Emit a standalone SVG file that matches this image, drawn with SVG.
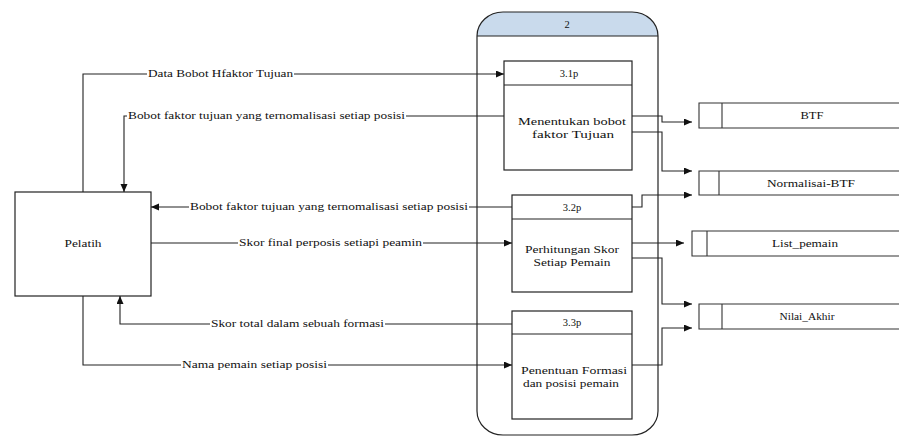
<svg xmlns="http://www.w3.org/2000/svg" width="899" height="436" viewBox="0 0 899 436" font-family="'Liberation Serif', 'Times New Roman', 'DejaVu Serif', serif">
  <style>
    text { font-family: 'Liberation Serif', 'Times New Roman', 'DejaVu Serif', serif; font-size: 10.5px; fill: #111; }
    .mid { text-anchor: middle; }
    .box { fill: #fff; stroke: #222; stroke-width: 1.2; }
    .ln { fill: none; stroke: #222; stroke-width: 1.1; }
    .flow { fill: none; stroke: #222; stroke-width: 1.1; }
    .store { fill: none; stroke: #333; stroke-width: 1.1; }
  </style>
  <defs>
    <marker id="arrow" markerUnits="userSpaceOnUse" markerWidth="9" markerHeight="8" refX="8" refY="3.5" orient="auto">
      <path d="M0,0 L8,3.5 L0,7 Z" fill="#111"/>
    </marker>
  </defs>

  <rect width="899" height="436" fill="#fff"/>

  <!-- process group 2 -->
  <g id="process-2">
    <path d="M477,36 A27,24 0 0 1 504,12 H631 A27,24 0 0 1 658,36 Z" fill="#c9daec"/>
    <rect x="477" y="12" width="181" height="423" rx="26" ry="24" fill="none" stroke="#222" stroke-width="1.2"/>
    <line x1="477" y1="36" x2="658" y2="36" class="ln"/>
    <text x="567" y="28" class="mid">2</text>
  </g>

  <!-- sub-process 3.1p -->
  <g id="p31">
    <rect x="504" y="61" width="128" height="109" class="box"/>
    <line x1="504" y1="85" x2="632" y2="85" class="ln"/>
    <text x="569" y="77" class="mid">3.1p</text>
    <text x="572" y="125" class="mid" textLength="108" lengthAdjust="spacingAndGlyphs">Menentukan bobot</text>
    <text x="573" y="138" class="mid" textLength="82" lengthAdjust="spacingAndGlyphs">faktor Tujuan</text>
  </g>

  <!-- sub-process 3.2p -->
  <g id="p32">
    <rect x="512" y="195" width="120" height="97" class="box"/>
    <line x1="512" y1="219" x2="632" y2="219" class="ln"/>
    <text x="572" y="211" class="mid">3.2p</text>
    <text x="572" y="253" class="mid" textLength="94" lengthAdjust="spacingAndGlyphs">Perhitungan Skor</text>
    <text x="572" y="266" class="mid" textLength="77" lengthAdjust="spacingAndGlyphs">Setiap Pemain</text>
  </g>

  <!-- sub-process 3.3p -->
  <g id="p33">
    <rect x="512" y="311" width="120" height="108" class="box"/>
    <line x1="512" y1="334" x2="632" y2="334" class="ln"/>
    <text x="572" y="326" class="mid">3.3p</text>
    <text x="574" y="374" class="mid" textLength="106" lengthAdjust="spacingAndGlyphs">Penentuan Formasi</text>
    <text x="571" y="387" class="mid" textLength="96" lengthAdjust="spacingAndGlyphs">dan posisi pemain</text>
  </g>

  <!-- external entity -->
  <g id="pelatih">
    <rect x="15" y="192" width="136" height="104" class="box"/>
    <text x="83" y="247" class="mid" textLength="37" lengthAdjust="spacingAndGlyphs">Pelatih</text>
  </g>

  <!-- data stores (open on the right) -->
  <g id="store-btf">
    <path d="M899,103 H699 V128 H899 M722,103 V128" class="store"/>
    <text x="812" y="119" class="mid" textLength="23" lengthAdjust="spacingAndGlyphs">BTF</text>
  </g>
  <g id="store-normalisai-btf">
    <path d="M899,171 H699 V195 H899 M719,171 V195" class="store"/>
    <text x="811" y="187" class="mid" textLength="88" lengthAdjust="spacingAndGlyphs">Normalisai-BTF</text>
  </g>
  <g id="store-list-pemain">
    <path d="M899,231 H692 V256 H899 M707,231 V256" class="store"/>
    <text x="805" y="247" class="mid" textLength="66" lengthAdjust="spacingAndGlyphs">List_pemain</text>
  </g>
  <g id="store-nilai-akhir">
    <path d="M899,304 H699 V329 H899 M722,304 V329" class="store"/>
    <text x="807" y="320" class="mid" textLength="55" lengthAdjust="spacingAndGlyphs">Nilai_Akhir</text>
  </g>

  <!-- data flows -->
  <g id="connectors">
    <path d="M83,192 V74 H147" class="flow"/>
    <path d="M294,74 H504" class="flow" marker-end="url(#arrow)"/>
    <text x="148" y="77" textLength="145" lengthAdjust="spacingAndGlyphs">Data Bobot Hfaktor Tujuan</text>

    <path d="M504,116 H406" class="flow"/>
    <path d="M127,116 H124 V192" class="flow" marker-end="url(#arrow)"/>
    <text x="128" y="119" textLength="277" lengthAdjust="spacingAndGlyphs">Bobot faktor tujuan yang ternomalisasi setiap posisi</text>

    <path d="M512,207 H469" class="flow"/>
    <path d="M189,207 H151" class="flow" marker-end="url(#arrow)"/>
    <text x="190" y="210" textLength="278" lengthAdjust="spacingAndGlyphs">Bobot faktor tujuan yang ternomalisasi setiap posisi</text>

    <path d="M151,243 H238" class="flow"/>
    <path d="M423,243 H512" class="flow" marker-end="url(#arrow)"/>
    <text x="239" y="246" textLength="183" lengthAdjust="spacingAndGlyphs">Skor final perposis setiapi peamin</text>

    <path d="M512,324 H385" class="flow"/>
    <path d="M210,324 H120 V296" class="flow" marker-end="url(#arrow)"/>
    <text x="211" y="327" textLength="173" lengthAdjust="spacingAndGlyphs">Skor total dalam sebuah formasi</text>

    <path d="M83,296 V365 H181" class="flow"/>
    <path d="M328,365 H512" class="flow" marker-end="url(#arrow)"/>
    <text x="182" y="368" textLength="145" lengthAdjust="spacingAndGlyphs">Nama pemain setiap posisi</text>

    <path d="M632,116 H662 V122 H692" class="flow" marker-end="url(#arrow)"/>
    <path d="M632,132 H662 V171 H692" class="flow" marker-end="url(#arrow)"/>
    <path d="M632,207 H642 V195 H692" class="flow" marker-end="url(#arrow)"/>
    <path d="M632,243 H684" class="flow" marker-end="url(#arrow)"/>
    <path d="M632,258 H662 V304 H692" class="flow" marker-end="url(#arrow)"/>
    <path d="M632,365 H662 V328 H692" class="flow" marker-end="url(#arrow)"/>
  </g>
</svg>
